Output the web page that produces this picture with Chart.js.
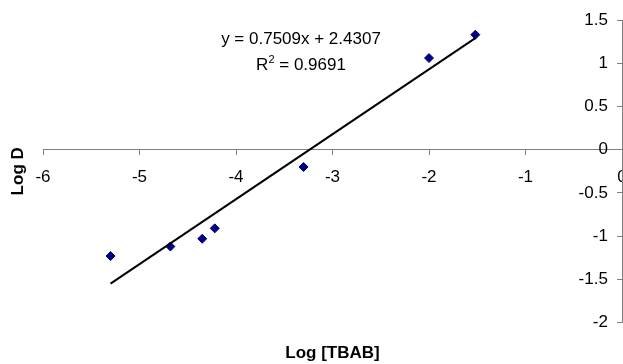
<!DOCTYPE html>
<html>
<head>
<meta charset="utf-8">
<script src="https://cdn.jsdelivr.net/npm/chart.js@4/dist/chart.umd.min.js"></script>
<style>
  html, body { margin: 0; background: #fff; overflow: hidden; }
  #wrap { position: relative; width: 623px; height: 364px; overflow: hidden; }
  #logChart { position: absolute; left: 0; top: 0; }
  .eq {
    position: absolute;
    transform: translateX(-50%);
    font: 17px "Liberation Sans", Arial, sans-serif;
    line-height: 20px;
    white-space: nowrap;
    color: #000;
  }
  .eq sup { font-size: 11px; line-height: 0; vertical-align: 7px; }
</style>
</head>
<body>
<div id="wrap">
  <!-- canvas wider than the window so the last x label is cut like the original -->
  <canvas id="logChart" width="640" height="364"></canvas>
  <div class="eq" style="left:301px; top:29px;">y = 0.7509x + 2.4307</div>
  <div class="eq" style="left:301px; top:55px;">R<sup>2</sup> = 0.9691</div>
</div>
<script>
// log [TBAB] vs log D
const logTBAB = [-5.30, -4.68, -4.35, -4.22, -3.30, -2.00, -1.52];
const logD = [-1.23, -1.12, -1.03, -0.91, -0.20, 1.06, 1.33];

// trendline ends (y = 0.7509x + 2.4307)
const trendX = [-5.30, -1.52];
const trendY = [-1.55, 1.29];

const xTicks = [-6, -5, -4, -3, -2, -1, 0];
const yTicks = [-2, -1.5, -1, -0.5, 0, 0.5, 1, 1.5];

window.addEventListener("DOMContentLoaded", () => {
  Chart.defaults.font.family = "'Liberation Sans', Arial, sans-serif";
  Chart.defaults.color = "#000";

  const axisGrey = "#808080";
  const ctx = document.getElementById("logChart").getContext("2d");
  new Chart(ctx, {
    type: "scatter",
    data: {
      datasets: [
        {
          label: "Trend",
          data: trendX.map((x, i) => ({ x: x, y: trendY[i] })),
          showLine: true,
          borderColor: "#000",
          borderWidth: 2,
          pointRadius: 0,
        },
        {
          label: "Log D",
          data: logTBAB.map((x, i) => ({ x: x, y: logD[i] })),
          pointStyle: "rectRot",
          pointRadius: 4.5,
          borderWidth: 1,
          backgroundColor: "#000080",
          borderColor: "#000080",
        },
      ],
    },
    options: {
      responsive: false,
      animation: false,
      layout: { padding: { top: 20, right: 18, left: 0, bottom: 0 } },
      plugins: {
        legend: { display: false },
        tooltip: { enabled: false },
        title: {
          display: true,
          position: "left",
          fullSize: false,
          text: "Log D",
          font: { size: 17, weight: "bold" },
          padding: { top: 8, bottom: 14.6 },
        },
        subtitle: {
          display: true,
          position: "bottom",
          fullSize: false,
          text: "Log [TBAB]",
          color: "#000",
          font: { size: 17, weight: "bold" },
          padding: { top: 21, bottom: 0 },
        },
      },
      scales: {
        x: {
          type: "linear",
          position: { y: 0 },
          min: xTicks[0],
          max: xTicks[xTicks.length - 1],
          afterBuildTicks: (s) => { s.ticks = xTicks.map((v) => ({ value: v })); },
          afterFit: (s) => { s.paddingRight = 0; },
          // only the x = 0 grid line is kept: it is the vertical axis line
          grid: {
            drawOnChartArea: true,
            tickLength: 5,
            tickColor: axisGrey,
            color: (c) => (c.tick && c.tick.value === 0 ? axisGrey : "rgba(0,0,0,0)"),
          },
          border: { display: true, color: axisGrey, width: 1 },
          ticks: { font: { size: 17 }, padding: 12, maxRotation: 0, callback: (v) => String(v) },
        },
        y: {
          type: "linear",
          position: { x: 0 },
          min: yTicks[0],
          max: yTicks[yTicks.length - 1],
          afterBuildTicks: (s) => { s.ticks = yTicks.map((v) => ({ value: v })); },
          grid: { drawOnChartArea: false, tickLength: 5, color: axisGrey },
          border: { display: true, color: axisGrey, width: 1 },
          // labels of a crossing axis sit right on the line, the spaces push them left
          ticks: { font: { size: 17 }, callback: (v) => String(v) + "   " },
        },
      },
    },
  });
});
</script>
</body>
</html>
